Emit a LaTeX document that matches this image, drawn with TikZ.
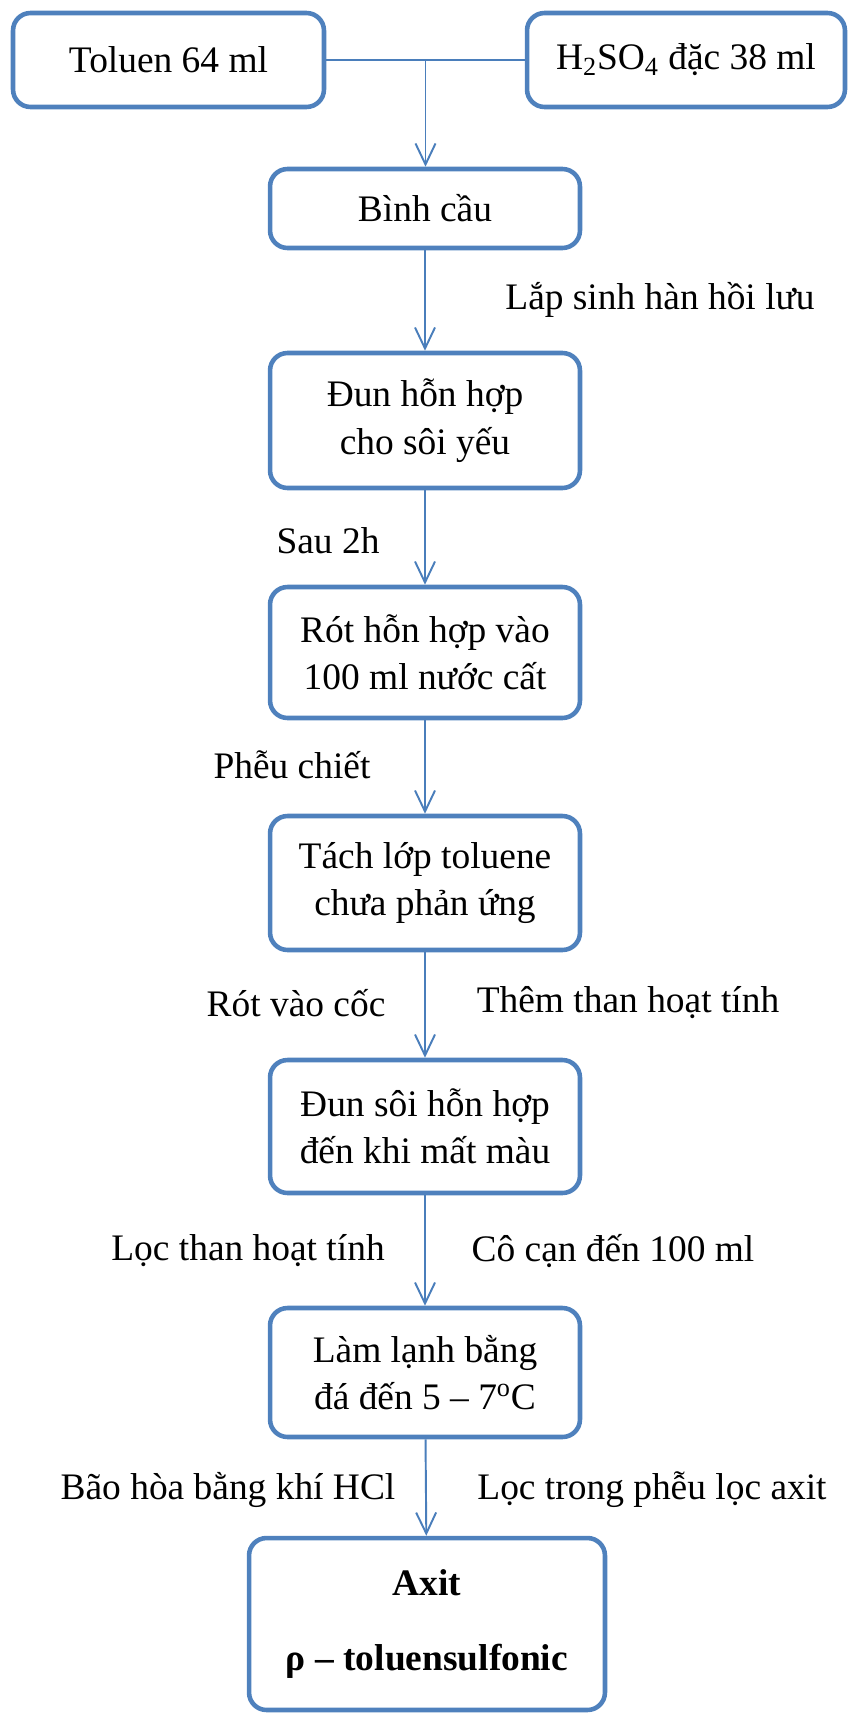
\documentclass[tikz,border=0pt]{standalone}
\usepackage{fontspec}
\setmainfont{Liberation Serif}
\usetikzlibrary{arrows.meta,calc}
\definecolor{boxblue}{HTML}{4F81BD}
\definecolor{lineblue}{HTML}{4A7EBB}
\tikzset{
	stage/.style={draw=boxblue, line width=2.6pt, rounded corners=0.35cm, align=center,
		minimum width=6.2cm, font=\fontsize{21.3}{27}\selectfont},
	note/.style={font=\fontsize{21.3}{27}\selectfont},
	link/.style={draw=lineblue, line width=1.1pt},
	flow/.style={link, -{Straight Barb[length=0.42cm,width=0.4cm]}}
}
\begin{document}
\begin{tikzpicture}[x = 0.02cm, y = -0.02cm]
	\useasboundingbox (0,0) rectangle (850,1713);
	% inputs
	\node [stage, minimum width = 6.22cm, minimum height = 1.88cm] (tol) at (168.5,60) {Toluen 64 ml};
	\node [stage, minimum width = 6.36cm, minimum height = 1.88cm] (acid) at (686,60) {H\textsubscript{2}SO\textsubscript{4} đặc 38 ml};
	% steps
	\node [stage, minimum height = 1.58cm] (binh) at (425,208.5) {Bình cầu};
	\node [stage, minimum height = 2.70cm] (dun) at (425,420.5) {Đun hỗn hợp\\cho sôi yếu};
	\node [stage, minimum height = 2.62cm] (rot) at (425,652.5) {Rót hỗn hợp vào\\100 ml nước cất};
	\node [stage, minimum height = 2.68cm] (tach) at (425,883) {Tách lớp toluene\\chưa phản ứng};
	\node [stage, minimum height = 2.66cm] (dunsoi) at (425,1126.5) {Đun sôi hỗn hợp\\đến khi mất màu};
	\node [stage, minimum height = 2.58cm] (lanh) at (425,1372.5) {Làm lạnh bằng\\đá đến 5 – 7\textsuperscript{o}C};
	\node [stage, minimum width = 7.12cm, minimum height = 3.44cm,
		font = \bfseries\fontsize{21.3}{43}\selectfont] (axit) at (427,1624) {Axit\\ρ – toluensulfonic};
	% connectors
	\coordinate (mix) at ($(tol.east)!0.5!(acid.west)$);
	\draw [link] (tol.east) -- (acid.west);
	\draw [flow] (mix) -- (mix |- binh.north);
	\draw [flow] (binh) -- (dun);
	\draw [flow] (dun) -- (rot);
	\draw [flow] (rot) -- (tach);
	\draw [flow] (tach) -- (dunsoi);
	\draw [flow] (dunsoi) -- (lanh);
	\draw [flow] (lanh) -- (axit);
	% labels
	\node [note] (lsh) at (660,300) {Lắp sinh hàn hồi lưu};
	\node [note] (sau) at (328,541) {Sau 2h};
	\node [note] (phieu) at (292,765) {Phễu chiết};
	\node [note] (coc) at (296,1003) {Rót vào cốc};
	\node [note] (than) at (628,1003) {Thêm than hoạt tính};
	\node [note] (loc) at (248,1251) {Lọc than hoạt tính};
	\node [note] (cocan) at (613,1251) {Cô cạn đến 100 ml};
	\node [note] (hcl) at (228,1490) {Bão hòa bằng khí HCl};
	\node [note] (phleu) at (652,1490) {Lọc trong phễu lọc axit};
\end{tikzpicture}
\end{document}
